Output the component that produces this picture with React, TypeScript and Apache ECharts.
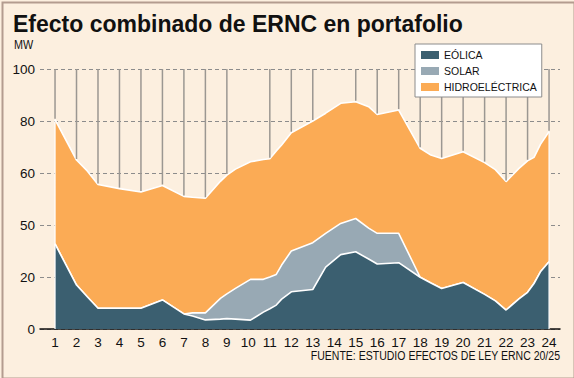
import React, { useEffect, useRef } from "react";
import * as echarts from "echarts";

const TITLE = "Efecto combinado de ERNC en portafolio";
const UNIT = "MW";
const SOURCE = "FUENTE: ESTUDIO EFECTOS DE LEY ERNC 20/25";
const seriesNames = ["EÓLICA", "SOLAR", "HIDROELÉCTRICA"];
const hours = [1, 2, 3, 4, 5, 6, 7, 8, 9, 10, 11, 12, 13, 14, 15, 16, 17, 18, 19, 20, 21, 22, 23, 24];
const yTickValues = [0, 20, 40, 60, 80, 100];
const yTickLabels = ["0", "20", "50", "60", "80", "100"];

// hour positions of the sampled points
const xs = [1, 2, 2.5, 3, 4, 5, 6, 7, 7.4, 8, 8.7, 9, 9.4, 10.1, 10.7, 11, 11.3, 11.55, 12, 13, 13.6, 14.3, 15, 15.6, 16, 17, 18, 18.5, 19, 20, 21, 21.5, 22, 22.6, 23, 23.3, 23.6, 24];
const eolica = [32.7, 16.9, 12.4, 8, 8, 8, 11.2, 5.8, 5.0, 3.5, 3.8, 4.0, 3.8, 3.4, 6.5, 7.8, 9.2, 11.5, 14.3, 15.2, 23.8, 28.6, 29.7, 26.9, 25, 25.5, 19.9, 17.7, 15.6, 17.9, 13.3, 10.8, 7.3, 11.6, 14.1, 17.5, 22, 25.9];
const solar = [0, 0, 0, 0, 0, 0, 0, 0, 1.2, 2.7, 8.0, 9.5, 11.8, 15.7, 12.6, 12.2, 11.8, 13.1, 15.7, 18.0, 13.0, 12.0, 12.8, 11.9, 11.8, 11.3, 0, 0, 0, 0, 0, 0, 0, 0, 0, 0, 0, 0];
const hidro = [47.8, 48.1, 48.4, 47.6, 46, 44.7, 44, 45.2, 44.5, 44.1, 45, 45.7, 45.9, 45.2, 46.1, 45.5, 47.5, 46.2, 45.5, 46.8, 46.2, 46.2, 44.9, 46.7, 45.7, 47.4, 49.6, 49.2, 50, 50.3, 50.7, 50.5, 49.4, 50.2, 50.6, 48.5, 49, 50];

const COLORS = { eolica: "#3b5f70", solar: "#98a9b4", hidro: "#fbab55" };
const FONT = "Liberation Sans";

export default function App() {
  const ref = useRef<HTMLDivElement>(null);
  useEffect(() => {
    const chart = echarts.init(ref.current!, null, { renderer: "svg" });
    const cumSolar = xs.map((_, i) => eolica[i] + solar[i]);
    const total = xs.map((_, i) => cumSolar[i] + hidro[i]);
    const pairs = (arr: number[]) => xs.map((x, i) => [x, +arr[i].toFixed(2)]);
    const totalAt = (h: number) => total[xs.indexOf(h)];

    const areaSeries = (name: string, data: number[][], color: string, z: number) => ({
      type: "line",
      name,
      data,
      symbol: "none",
      smooth: false,
      z,
      lineStyle: { color: "#ffffff", width: 1.6 },
      itemStyle: { color },
      areaStyle: { color, opacity: 1 },
      silent: true,
    });

    const option: any = {
      animation: false,
      backgroundColor: "#fcefdf",
      grid: { left: 40, right: 14, top: 69, bottom: 49, containLabel: false },
      legend: {
        data: seriesNames,
        orient: "vertical",
        left: 415,
        top: 44,
        z: 20,
        backgroundColor: "#ffffff",
        borderColor: "#8c8c8c",
        borderWidth: 1,
        borderRadius: 0,
        padding: [5, 5, 4, 6],
        itemWidth: 18,
        itemHeight: 8,
        itemGap: 4,
        icon: "rect",
        selectedMode: false,
        itemStyle: { borderWidth: 0 },
        textStyle: { fontFamily: FONT, fontSize: 10.5, color: "#111", lineHeight: 12 },
      },
      xAxis: {
        type: "value",
        min: 0.3,
        max: 24.51,
        axisLine: { show: true, onZero: true, lineStyle: { color: "#111", width: 1.5 } },
        axisTick: { show: false },
        splitLine: { show: false },
        axisLabel: { customValues: hours, fontFamily: FONT, fontSize: 13.5, color: "#111", margin: 6 },
      },
      yAxis: {
        type: "value",
        min: 0,
        max: 100,
        interval: 20,
        axisLine: { show: false },
        axisTick: { show: false },
        axisLabel: {
          fontFamily: FONT,
          fontSize: 13.5,
          color: "#111",
          margin: 5,
          formatter: (v: number) => {
            const k = yTickValues.indexOf(v);
            return k >= 0 ? yTickLabels[k] : "";
          },
        },
        splitLine: { lineStyle: { color: "#8c8c8c", type: [4, 3], width: 1 } },
      },
      series: [
        areaSeries(seriesNames[2], pairs(total), COLORS.hidro, 2),
        areaSeries(seriesNames[1], pairs(cumSolar), COLORS.solar, 3),
        areaSeries(seriesNames[0], pairs(eolica), COLORS.eolica, 4),
        {
          type: "custom",
          name: "drop",
          z: 5,
          silent: true,
          encode: { x: 0, y: 1 },
          data: hours.map((h) => [h, totalAt(h)]),
          renderItem: (params: any, api: any) => {
            const x = api.value(0);
            const t = api.value(1);
            const p0 = api.coord([x, t]);
            const p1 = api.coord([x, 100]);
            const children: any[] = [
              {
                type: "line",
                shape: { x1: p0[0], y1: p0[1] - 1, x2: p1[0], y2: p1[1] },
                style: { stroke: "#9b9792", lineWidth: 1.5 },
              },
            ];
            if (x === hours[0] || x === hours[hours.length - 1]) {
              const pb = api.coord([x, 0]);
              children.push({
                type: "line",
                shape: { x1: pb[0], y1: pb[1], x2: p0[0], y2: p0[1] },
                style: { stroke: "#ffffff", lineWidth: 1.2 },
              });
            }
            return { type: "group", children };
          },
        },
      ],
      graphic: [
        {
          type: "text",
          left: 13,
          top: 12,
          style: { text: TITLE, fontFamily: FONT, fontWeight: "bold", fontSize: 23, fill: "#111" },
        },
        {
          type: "text",
          x: 14,
          y: 45,
          scaleX: 0.8,
          style: { text: UNIT, fontFamily: FONT, fontSize: 13.5, fill: "#111", textAlign: "left", textVerticalAlign: "middle" },
        },
        {
          type: "text",
          x: 560,
          y: 356,
          scaleX: 0.78,
          style: { text: SOURCE, fontFamily: FONT, fontSize: 13.5, fill: "#111", textAlign: "right", textVerticalAlign: "middle" },
        },
        {
          type: "rect",
          left: 0,
          top: 0,
          silent: true,
          z: 100,
          shape: { x: 0, y: 0, width: 572, height: 376 },
          style: { fill: "none", stroke: "#b39c8f", lineWidth: 2 },
        },
      ],
    };
    chart.setOption(option);
    return () => chart.dispose();
  }, []);
  return <div ref={ref} style={{ position: "fixed", left: 0, top: 0, width: 574, height: 378 }} />;
}
